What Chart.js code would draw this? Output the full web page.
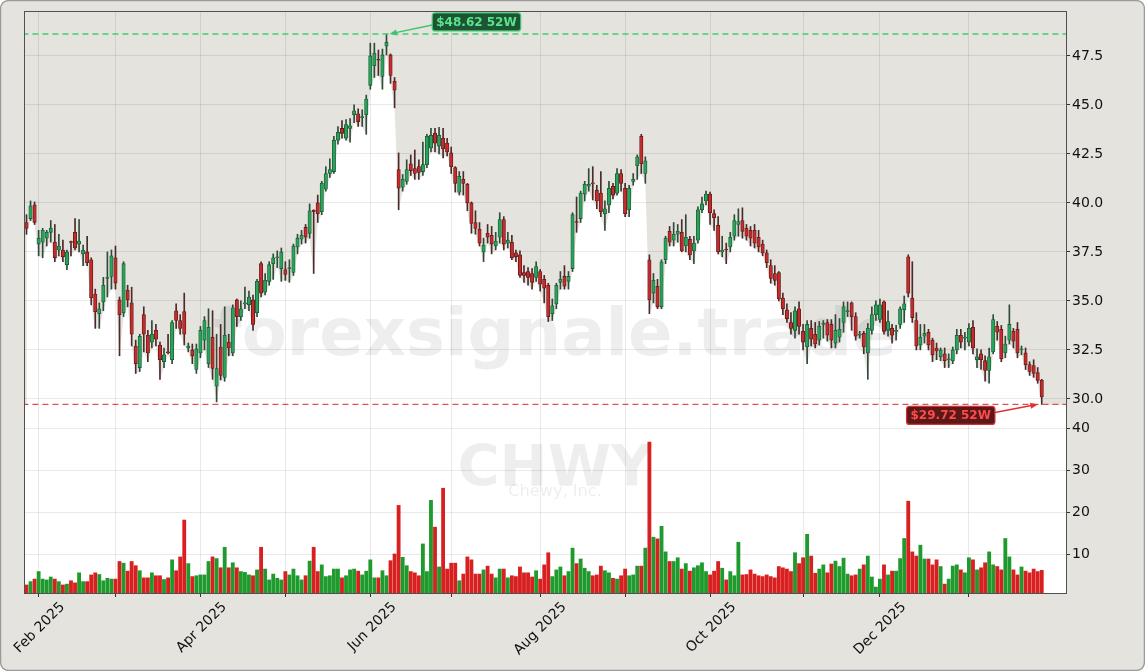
<!DOCTYPE html>
<html>
<head>
<meta charset="utf-8">
<title>CHWY 52W</title>
<script src="https://cdn.jsdelivr.net/npm/chart.js@4.4.1/dist/chart.umd.min.js"></script>
<style>
  html, body { margin: 0; padding: 0; background: #ffffff; }
  canvas { display: block; background: #e5e3de; border-radius: 8px; }
</style>
</head>
<body>
<canvas id="chart" width="1145" height="671"></canvas>
<script>
// CHWY daily candles, 29 Jan 2025 .. 28 Jan 2026 (one entry per trading day)
const opens = [
  39.0, 39.2, 39.9, 37.9, 38.0, 38.2, 38.5, 38.0, 37.6, 37.6,
  36.85, 38.02, 38.5, 37.9, 37.4, 37.5, 37.1, 35.35, 34.35, 34.95,
  36.15, 36.25, 37.2, 35.05, 34.4, 35.55, 34.9, 32.7, 31.6, 34.3,
  33.25, 32.9, 33.5, 32.75, 31.9, 32.4, 32.0, 34.5, 34.0, 34.45,
  32.6, 32.5, 31.5, 32.35, 33.0, 31.8, 33.15, 30.65, 32.65, 31.1,
  32.9, 32.35, 35.05, 34.2, 34.85, 34.8, 35.05, 34.4, 36.9, 35.45,
  36.0, 36.9, 37.2, 36.65, 36.6, 36.65, 36.45, 37.75, 38.15, 38.75,
  38.45, 39.62, 40.0, 39.55, 40.7, 41.5, 41.6, 43.2, 43.8, 43.3,
  43.8, 44.5, 44.55, 44.35, 44.5, 46.0, 47.0, 47.32, 46.45, 48.0,
  47.55, 46.2, 41.7, 40.8, 41.1, 42.0, 41.75, 41.85, 41.6, 41.95,
  42.8, 43.55, 42.9, 43.3, 43.05, 42.55, 41.8, 40.55, 41.2, 40.95,
  40.0, 39.0, 38.65, 37.5, 38.45, 38.35, 37.8, 38.25, 39.15, 37.95,
  38.0, 37.45, 37.35, 36.45, 36.5, 36.4, 36.2, 36.5, 36.1, 35.8,
  34.35, 34.85, 35.95, 36.25, 36.0, 36.65, 39.05, 39.2, 40.45, 40.85,
  41.0, 40.65, 40.5, 39.45, 39.9, 40.85, 40.5, 41.5, 40.75, 39.65,
  41.1, 41.9, 43.4, 41.5, 37.1, 35.4, 35.75, 34.7, 37.1, 38.55,
  38.1, 38.4, 38.5, 37.8, 38.15, 37.55, 38.1, 39.65, 40.1, 40.45,
  39.45, 38.85, 37.5, 37.65, 37.75, 38.3, 38.9, 39.1, 38.7, 38.6,
  38.6, 38.25, 37.9, 37.45, 36.8, 36.4, 36.45, 35.15, 34.55, 33.9,
  33.5, 34.6, 33.45, 32.65, 33.6, 33.3, 33.0, 33.8, 33.9, 33.8,
  32.85, 33.15, 33.9, 34.45, 34.9, 34.2, 33.25, 33.35, 32.35, 33.5,
  34.3, 34.05, 34.95, 33.5, 33.6, 33.45, 33.8, 34.55, 37.25, 35.15,
  34.0, 32.75, 33.2, 33.4, 33.0, 32.6, 32.15, 32.3, 32.0, 31.95,
  32.5, 33.25, 33.1, 32.9, 33.65, 32.0, 32.3, 31.95, 31.45, 32.4,
  33.7, 33.55, 32.35, 33.0, 33.45, 33.55, 32.5, 32.35, 31.75, 31.7,
  31.35, 30.95
];
const highs = [
  39.4, 40.1, 40.05, 38.6, 38.7, 38.6, 39.1, 38.9, 38.4, 38.1,
  37.6, 38.05, 39.2, 39.15, 37.85, 38.3, 37.2, 35.6, 34.9, 36.2,
  37.5, 37.6, 37.8, 35.2, 37.0, 35.8, 35.7, 33.0, 33.3, 34.7,
  33.5, 34.0, 33.8, 32.9, 32.6, 33.3, 34.0, 34.85, 34.3, 35.4,
  32.85, 32.8, 32.8, 33.7, 34.2, 34.6, 34.5, 33.3, 33.8, 34.7,
  33.3, 34.8, 35.1, 35.0, 35.7, 35.5, 35.3, 36.1, 37.0, 36.4,
  37.0, 37.4, 37.55, 37.7, 37.0, 37.1, 37.9, 38.4, 38.6, 38.9,
  39.95, 39.65, 40.4, 41.1, 41.85, 42.25, 43.4, 43.9, 44.2, 44.25,
  44.3, 45.0, 44.8, 44.75, 45.5, 48.15, 48.15, 47.8, 47.85, 48.62,
  47.6, 46.4, 42.55, 41.45, 42.2, 42.45, 42.7, 42.2, 43.1, 43.5,
  43.8, 43.8, 43.85, 43.8, 43.3, 42.85, 41.85, 41.6, 41.6, 41.0,
  40.05, 39.6, 39.0, 38.2, 38.9, 38.8, 38.5, 39.5, 39.3, 38.5,
  38.35, 37.6, 37.55, 36.8, 36.7, 36.65, 37.0, 36.6, 36.3, 35.9,
  35.1, 35.9, 36.5, 36.8, 36.5, 39.5, 40.3, 40.6, 41.1, 41.75,
  41.85, 40.9, 41.6, 40.1, 41.1, 41.0, 41.75, 41.7, 41.0, 40.9,
  41.5, 42.45, 43.5, 42.35, 37.35, 36.4, 36.1, 37.1, 38.3, 38.8,
  39.0, 38.9, 39.15, 39.4, 38.3, 38.3, 39.8, 40.3, 40.6, 40.55,
  39.65, 39.3, 38.3, 37.95, 38.5, 39.4, 39.7, 39.75, 38.9, 38.8,
  38.9, 38.6, 38.1, 37.6, 37.1, 36.8, 36.5, 35.4, 34.85, 34.4,
  34.7, 34.95, 33.8, 34.0, 34.0, 33.9, 33.95, 34.0, 34.05, 34.05,
  34.3, 34.1, 34.95, 34.95, 34.95, 34.4, 33.45, 33.45, 33.85, 34.7,
  35.0, 35.1, 35.0, 34.5, 33.8, 33.75, 34.7, 35.25, 37.35, 37.0,
  34.4, 33.8, 33.8, 33.55, 33.1, 32.85, 32.6, 32.6, 32.3, 32.65,
  33.55, 33.55, 33.4, 33.85, 34.0, 32.55, 32.5, 32.2, 32.6, 34.3,
  33.95, 33.75, 33.2, 34.8, 33.6, 33.9, 32.7, 32.6, 31.9, 32.0,
  31.6, 31.0
];
const lows = [
  38.4, 39.1, 38.9, 37.3, 37.2, 37.8, 38.0, 37.0, 37.3, 37.0,
  36.6, 37.3, 37.6, 37.5, 36.8, 36.8, 34.8, 33.6, 33.6, 34.5,
  35.2, 35.6, 35.6, 32.2, 34.2, 34.7, 32.7, 31.3, 31.4, 32.4,
  31.9, 32.6, 32.7, 31.0, 31.6, 32.3, 31.8, 33.6, 33.3, 32.75,
  32.4, 31.8, 31.3, 32.1, 32.5, 31.6, 31.0, 29.85, 30.97, 30.9,
  32.2, 32.2, 33.7, 34.0, 34.6, 34.5, 33.5, 34.2, 35.2, 35.3,
  35.8, 36.1, 36.7, 36.0, 36.05, 35.95, 36.3, 37.4, 37.9, 37.95,
  38.2, 36.4, 39.0, 39.4, 40.6, 41.3, 41.5, 43.0, 43.3, 43.2,
  43.1, 44.1, 43.9, 43.9, 43.5, 45.8, 46.4, 46.5, 45.8, 47.55,
  46.1, 44.85, 39.65, 40.6, 40.95, 41.4, 41.2, 41.2, 41.4, 41.8,
  42.6, 42.6, 42.5, 42.3, 42.4, 41.5, 40.55, 40.4, 40.4, 39.6,
  38.45, 38.4, 37.8, 37.0, 37.95, 37.4, 37.6, 37.95, 37.6, 37.7,
  37.1, 37.0, 36.2, 35.95, 35.8, 35.6, 36.0, 35.5, 34.9, 33.95,
  34.0, 34.6, 35.6, 35.6, 35.6, 36.5, 38.5, 39.0, 40.1, 40.6,
  40.15, 39.7, 39.3, 38.6, 39.5, 40.2, 40.4, 40.6, 39.3, 39.3,
  40.9, 41.2, 41.5, 41.0, 34.35, 34.9, 34.6, 34.6, 36.9, 37.8,
  37.8, 38.0, 37.5, 37.5, 37.1, 36.9, 37.95, 39.5, 39.9, 38.9,
  38.6, 37.4, 37.25, 36.9, 37.5, 38.1, 38.3, 38.2, 38.1, 37.8,
  37.7, 37.5, 37.3, 36.7, 35.9, 35.8, 35.0, 34.3, 33.9, 33.3,
  33.1, 33.3, 32.5, 31.8, 32.7, 32.6, 32.75, 33.1, 32.95, 32.6,
  32.6, 32.9, 33.4, 34.2, 33.5, 33.0, 33.1, 32.3, 31.0, 33.3,
  34.0, 33.9, 33.3, 33.2, 32.85, 33.0, 33.6, 33.9, 35.2, 33.9,
  32.5, 32.5, 32.85, 32.5, 31.9, 32.0, 31.95, 31.6, 31.6, 31.8,
  32.3, 32.6, 32.5, 32.7, 32.3, 31.6, 31.5, 30.9, 30.8, 32.3,
  33.0, 31.9, 32.1, 32.8, 32.6, 32.1, 32.25, 31.5, 31.2, 31.1,
  30.8, 29.72
];
const closes = [
  38.7, 39.85, 39.0, 38.2, 38.6, 38.5, 38.7, 37.2, 37.8, 37.25,
  37.5, 37.98, 37.7, 38.05, 37.6, 36.95, 35.15, 34.45, 34.6, 35.8,
  36.2, 37.3, 35.9, 34.3, 36.9, 35.05, 33.3, 31.8, 33.2, 33.3,
  32.35, 33.3, 33.05, 32.0, 32.25, 32.35, 33.9, 34.0, 33.6, 33.3,
  32.7, 32.2, 32.55, 33.5, 34.0, 33.65, 31.55, 31.55, 31.2, 33.25,
  32.6, 34.65, 34.2, 34.6, 34.9, 35.2, 33.8, 36.0, 35.4, 36.05,
  36.85, 37.2, 37.25, 37.5, 36.35, 36.7, 37.8, 38.2, 38.35, 38.25,
  39.6, 39.55, 39.45, 41.0, 41.5, 41.7, 43.2, 43.6, 43.55, 44.0,
  43.93, 44.7, 44.15, 44.4, 45.3, 47.5, 47.65, 47.28, 47.55, 48.2,
  46.5, 45.75, 40.75, 41.2, 41.7, 41.65, 41.5, 41.55, 41.95, 43.4,
  43.45, 43.05, 43.45, 42.75, 42.6, 41.85, 41.0, 41.35, 41.0, 40.0,
  38.95, 38.7, 37.95, 37.85, 38.25, 37.9, 38.05, 39.15, 37.9, 38.1,
  37.2, 37.25, 36.3, 36.3, 36.2, 35.95, 36.75, 35.85, 35.65, 34.2,
  34.75, 35.8, 36.1, 35.75, 36.25, 39.4, 39.0, 40.5, 40.95, 40.95,
  40.97, 40.1, 39.55, 39.7, 40.75, 40.4, 41.5, 41.0, 39.45, 40.75,
  41.2, 42.35, 42.0, 42.15, 35.05, 36.05, 34.7, 37.0, 38.2, 38.0,
  38.4, 38.55, 37.55, 38.25, 37.35, 37.95, 39.65, 39.95, 40.45, 39.5,
  39.25, 37.5, 37.6, 37.6, 38.25, 39.1, 39.05, 38.55, 38.3, 38.2,
  37.95, 37.75, 37.45, 36.95, 36.15, 36.05, 35.1, 34.6, 34.1, 33.6,
  34.5, 33.7, 32.9, 33.8, 33.05, 32.8, 33.7, 33.85, 33.25, 33.0,
  33.5, 33.55, 34.7, 34.5, 34.2, 33.2, 33.3, 32.65, 33.6, 34.3,
  34.8, 34.8, 33.45, 33.95, 33.25, 33.5, 34.6, 34.85, 35.4, 34.15,
  32.7, 33.15, 33.35, 32.75, 32.25, 32.45, 32.5, 31.95, 32.05, 32.5,
  33.25, 32.9, 33.15, 33.6, 32.6, 32.15, 32.0, 31.45, 32.15, 34.05,
  33.4, 32.05, 32.8, 33.8, 32.95, 32.35, 32.5, 31.75, 31.4, 31.3,
  30.95, 30.1
];
// volume, millions of shares
const volumes = [
  2.7, 3.5, 4.1, 5.9, 4.1, 3.9, 4.6, 4.1, 3.5, 2.7,
  2.9, 3.7, 3.2, 5.6, 3.5, 3.5, 5.1, 5.6, 5.2, 3.7,
  4.3, 4.1, 4.1, 8.3, 7.9, 6.0, 8.3, 7.3, 6.1, 4.4,
  4.4, 5.6, 4.9, 4.9, 4.0, 4.4, 8.7, 6.1, 9.4, 18.2,
  7.8, 4.7, 4.9, 5.1, 5.1, 8.3, 9.4, 9.0, 6.8, 11.7,
  6.8, 8.0, 6.8, 5.9, 5.7, 5.1, 4.9, 6.3, 11.7, 6.5,
  3.9, 5.3, 4.3, 3.9, 5.9, 5.1, 6.5, 4.9, 3.9, 4.9,
  8.4, 11.7, 5.9, 7.5, 4.7, 4.9, 6.5, 6.5, 4.4, 4.9,
  6.3, 6.5, 6.0, 5.1, 6.0, 8.7, 4.4, 4.4, 6.1, 4.9,
  8.5, 10.1, 21.7, 9.3, 7.3, 5.9, 5.6, 4.9, 12.5, 5.9,
  22.9, 16.5, 7.0, 25.8, 6.5, 7.9, 7.9, 3.7, 5.3, 9.4,
  8.7, 5.3, 5.3, 6.3, 7.2, 5.3, 4.4, 6.5, 6.5, 4.4,
  4.9, 4.7, 7.0, 5.6, 5.6, 4.6, 6.1, 4.1, 7.5, 10.4,
  4.7, 6.3, 7.0, 4.9, 5.9, 11.5, 7.8, 8.9, 6.7, 5.9,
  4.9, 5.1, 7.2, 6.1, 5.6, 4.3, 4.1, 4.9, 6.5, 4.9,
  5.1, 7.2, 7.2, 11.5, 36.8, 14.1, 13.7, 16.7, 10.6, 8.3,
  8.3, 9.2, 6.5, 7.8, 6.0, 6.8, 7.3, 8.0, 5.9, 5.1,
  6.0, 8.3, 6.7, 3.9, 5.9, 4.9, 12.9, 5.1, 5.2, 6.3,
  5.3, 4.9, 4.7, 5.1, 4.7, 4.4, 7.1, 6.8, 6.5, 5.9,
  10.4, 7.8, 9.2, 14.8, 9.6, 5.5, 6.5, 7.5, 5.6, 7.7,
  8.4, 7.1, 9.1, 5.3, 4.9, 5.1, 6.5, 7.5, 9.6, 4.6,
  2.2, 4.1, 7.5, 5.1, 6.0, 6.0, 9.0, 13.8, 22.7, 10.6,
  9.6, 12.2, 8.9, 8.9, 7.5, 8.7, 7.1, 2.9, 4.1, 7.2,
  7.5, 6.3, 5.6, 9.2, 8.7, 6.3, 6.8, 8.0, 10.6, 7.5,
  7.1, 6.3, 13.8, 9.4, 6.3, 5.1, 7.0, 6.0, 5.6, 6.5,
  5.9, 6.2
];

// first trading day of each month (index into the arrays above)
const monthIdx = [3, 22, 43, 64, 85, 105, 127, 148, 169, 192, 211, 233];
const monthLabels = ['Feb 2025', '', 'Apr 2025', '', 'Jun 2025', '', 'Aug 2025', '', 'Oct 2025', '', 'Dec 2025', ''];
const priceTicks = [30.0, 32.5, 35.0, 37.5, 40.0, 42.5, 45.0, 47.5];
const volTicks = [10, 20, 30, 40];

// 52-week extremes
const high52 = 48.62, high52Idx = 89;
const low52 = 29.72, low52Idx = 251;

const UP = '#27a35a', UP_EDGE = '#1c5a34';
const DOWN = '#c72a2a', DOWN_EDGE = '#5c1a1a';
const VOL_UP = '#1f9a2c', VOL_DOWN = '#d92020';
const FONT = 'DejaVu Sans';

const idx = closes.map((_, i) => i);
const isUp = i => closes[i] >= opens[i];

/**
 * Panel backgrounds, watermark, frame and 52W tags
 */
const decorations = {
    id: 'decorations',
    beforeDraw(chart) {
        // price panel shows the canvas beige, volume panel is white
        const { ctx, chartArea } = chart;
        const vol = chart.scales.vol;
        ctx.save();
        ctx.fillStyle = '#ffffff';
        ctx.fillRect(chartArea.left, vol.top, chartArea.right - chartArea.left, vol.bottom - vol.top);
        ctx.restore();
    },
    beforeDatasetsDraw(chart) {
        const { ctx } = chart;
        ctx.save();
        ctx.textAlign = 'center';
        ctx.textBaseline = 'alphabetic';
        ctx.fillStyle = 'rgba(0, 0, 0, 0.065)';
        fitText(ctx, 'forexsignale.trade', 'bold', 555, 355, 684);
        fitText(ctx, 'CHWY', 'bold', 555, 486, 195);
        ctx.fillStyle = 'rgba(0, 0, 0, 0.07)';
        fitText(ctx, 'Chewy, Inc.', 'normal', 555, 496, 94);
        ctx.restore();
    },
    afterDraw(chart) {
        const { ctx, chartArea } = chart;
        const x = chart.scales.x, y = chart.scales.y;
        ctx.save();
        ctx.strokeStyle = '#505050';
        ctx.lineWidth = 1;
        ctx.strokeRect(chartArea.left - 0.5, chartArea.top - 0.5,
            chartArea.right - chartArea.left + 1, chartArea.bottom - chartArea.top + 1);

        // 52W high
        const hx = x.getPixelForValue(high52Idx), hy = y.getPixelForValue(high52);
        const hw = tag(ctx, `$${high52.toFixed(2)} 52W`, hx + 90, hy - 12, '#5ae38c', '#1d5534', '#3fc46e');
        arrow(ctx, hx + 90 - hw / 2, hy - 9, hx + 3, hy, '#3fc46e');

        // 52W low
        const lx = x.getPixelForValue(low52Idx), ly = y.getPixelForValue(low52);
        const lw = tag(ctx, `$${low52.toFixed(2)} 52W`, lx - 91, ly + 11, '#ff4a4a', '#5a1818', '#d83030');
        arrow(ctx, lx - 91 + lw / 2, ly + 8, lx - 4, ly, '#e03232');

        // outer frame
        ctx.strokeStyle = '#9a9a9a';
        ctx.beginPath();
        ctx.roundRect(0.5, 0.5, chart.width - 1, chart.height - 1, 8);
        ctx.stroke();
        ctx.restore();
    }
};

function fitText(ctx, text, weight, cx, baseline, width) {
    ctx.font = `${weight} 100px "${FONT}"`;
    const size = 100 * width / ctx.measureText(text).width;
    ctx.font = `${weight} ${size.toFixed(1)}px "${FONT}"`;
    ctx.fillText(text, cx, baseline);
}

function tag(ctx, text, cx, cy, fg, bg, edge) {
    ctx.font = `bold 12px "${FONT}"`;
    const w = ctx.measureText(text).width + 8, h = 18;
    ctx.beginPath();
    ctx.roundRect(cx - w / 2, cy - h / 2, w, h, 3);
    ctx.fillStyle = bg;
    ctx.fill();
    ctx.lineWidth = 1.2;
    ctx.strokeStyle = edge;
    ctx.stroke();
    ctx.fillStyle = fg;
    ctx.textAlign = 'center';
    ctx.textBaseline = 'middle';
    ctx.fillText(text, cx, cy + 0.5);
    return w;
}

function arrow(ctx, x0, y0, x1, y1, color) {
    const a = Math.atan2(y1 - y0, x1 - x0), len = 8;
    ctx.strokeStyle = color;
    ctx.fillStyle = color;
    ctx.lineWidth = 1.5;
    ctx.beginPath();
    ctx.moveTo(x0, y0);
    ctx.lineTo(x1 - Math.cos(a) * len * 0.8, y1 - Math.sin(a) * len * 0.8);
    ctx.stroke();
    ctx.beginPath();
    ctx.moveTo(x1, y1);
    ctx.lineTo(x1 - len * Math.cos(a - 0.4), y1 - len * Math.sin(a - 0.4));
    ctx.lineTo(x1 - len * Math.cos(a + 0.4), y1 - len * Math.sin(a + 0.4));
    ctx.closePath();
    ctx.fill();
}

const tickFont = { family: FONT, size: 14 };
const gridColor = 'rgba(0, 0, 0, 0.085)';

new Chart(document.getElementById('chart'), {
    data: {
        datasets: [
            {
                // white area below the daily lows
                type: 'line',
                yAxisID: 'y',
                data: idx.map(i => ({ x: i, y: lows[i] })),
                borderWidth: 0,
                borderColor: 'rgba(0,0,0,0)',
                pointRadius: 0,
                fill: 'start',
                backgroundColor: '#ffffff',
                order: 10
            },
            {
                type: 'bar',
                yAxisID: 'y',
                data: idx.map(i => ({ x: i, y: [lows[i], highs[i]] })),
                backgroundColor: idx.map(i => isUp(i) ? '#2f4a38' : '#4a2a2a'),
                barThickness: 1,
                grouped: false,
                order: 3
            },
            {
                type: 'bar',
                yAxisID: 'y',
                data: idx.map(i => ({ x: i, y: [opens[i], closes[i]] })),
                backgroundColor: idx.map(i => isUp(i) ? UP : DOWN),
                borderColor: idx.map(i => isUp(i) ? UP_EDGE : DOWN_EDGE),
                borderWidth: 0.8,
                borderSkipped: false,
                barThickness: 3.4,
                minBarLength: 1,
                grouped: false,
                order: 2
            },
            {
                type: 'bar',
                yAxisID: 'vol',
                data: idx.map(i => ({ x: i, y: volumes[i] })),
                backgroundColor: idx.map(i => isUp(i) ? VOL_UP : VOL_DOWN),
                barPercentage: 0.95,
                categoryPercentage: 1,
                grouped: false,
                order: 2
            },
            {
                type: 'line',
                yAxisID: 'y',
                data: [{ x: -1, y: high52 }, { x: 260, y: high52 }],
                borderColor: '#3fcf70',
                borderWidth: 1.5,
                borderDash: [6, 4],
                pointRadius: 0,
                order: 0
            },
            {
                type: 'line',
                yAxisID: 'y',
                data: [{ x: -1, y: low52 }, { x: 260, y: low52 }],
                borderColor: '#e05050',
                borderWidth: 1.5,
                borderDash: [6, 4],
                pointRadius: 0,
                order: 0
            }
        ]
    },
    options: {
        responsive: false,
        animation: false,
        events: [],
        layout: { padding: { left: 25, top: 12, right: 0, bottom: 0 } },
        plugins: {
            legend: { display: false },
            tooltip: { enabled: false },
            filler: { drawTime: 'beforeDraw' }
        },
        scales: {
            x: {
                type: 'linear',
                offset: false,
                min: -0.37,
                max: 257,
                afterBuildTicks: s => { s.ticks = monthIdx.map(v => ({ value: v })); },
                afterFit: s => { s.height = 78; s.paddingLeft = 0; s.paddingRight = 0; },
                ticks: {
                    autoSkip: false,
                    minRotation: 45,
                    maxRotation: 45,
                    labelOffset: 24,
                    padding: 2,
                    color: '#111',
                    font: tickFont,
                    callback: (v, i) => monthLabels[i]
                },
                grid: { offset: false, color: gridColor, tickLength: 4, tickColor: '#333' },
                border: { display: false }
            },
            y: {
                position: 'right',
                stack: 'panels',
                stackWeight: 393,
                min: 29.69,
                max: 49.74,
                afterBuildTicks: s => { s.ticks = priceTicks.map(v => ({ value: v })); },
                afterFit: s => { s.width = 79; s.paddingTop = 0; s.paddingBottom = 0; },
                ticks: { color: '#111', font: tickFont, padding: 2, callback: v => v.toFixed(1) },
                grid: { color: gridColor, tickLength: 4, tickColor: '#333' },
                border: { display: false }
            },
            vol: {
                position: 'right',
                stack: 'panels',
                stackWeight: 188,
                min: 0.7,
                max: 45.6,
                afterBuildTicks: s => { s.ticks = volTicks.map(v => ({ value: v })); },
                afterFit: s => { s.width = 79; s.paddingTop = 0; s.paddingBottom = 0; },
                ticks: { color: '#111', font: tickFont, padding: 2 },
                grid: { color: gridColor, tickLength: 4, tickColor: '#333' },
                border: { display: false }
            }
        }
    },
    plugins: [decorations]
});
</script>
</body>
</html>
